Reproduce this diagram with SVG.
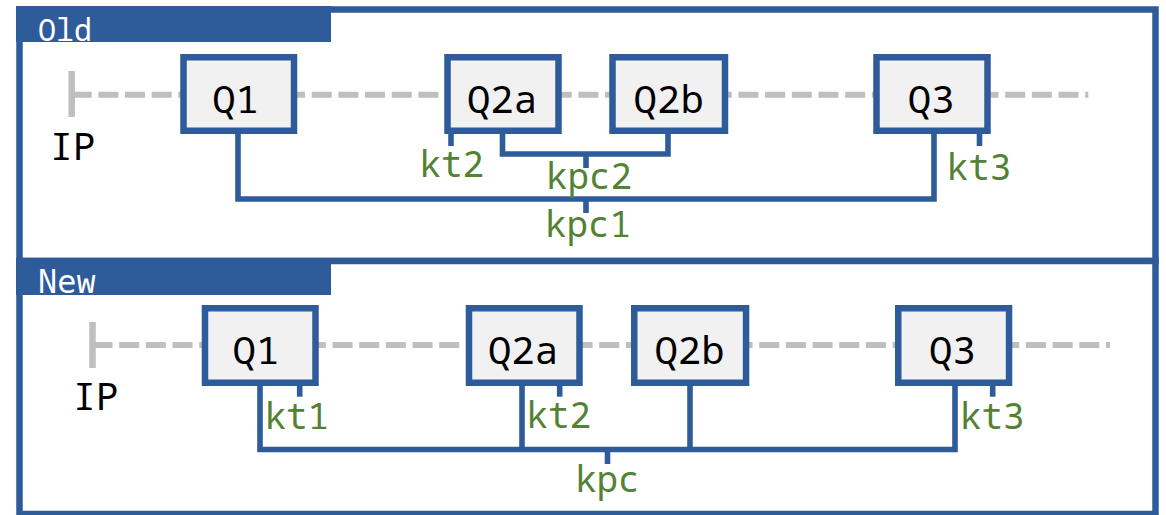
<svg xmlns="http://www.w3.org/2000/svg" width="1166" height="515" viewBox="0 0 1166 515">
  <defs>
    <style>
      .frame { fill: #ffffff; stroke: #2e5b99; stroke-width: 6.5; }
      .tab { fill: #2e5b99; }
      .tabtxt { fill: #ffffff; font-family: "Noto Sans Mono", "DejaVu Sans Mono", "Liberation Mono", monospace; }
      .axis { fill: none; stroke: #bfbfbf; stroke-width: 6; stroke-dasharray: 20 6.67; }
      .tick { fill: none; stroke: #bfbfbf; stroke-width: 6.5; }
      .box { fill: #f1f1f1; stroke: #2e5b99; stroke-width: 6.5; }
      .qtxt { fill: #000000; font-family: "Noto Sans Mono", "DejaVu Sans Mono", "Liberation Mono", monospace; font-size: 39px; text-anchor: middle; }
      .iptxt { fill: #000000; font-family: "Noto Sans Mono", "DejaVu Sans Mono", "Liberation Mono", monospace; font-size: 38px; }
      .wire { fill: none; stroke: #2e5b99; stroke-width: 5.6; stroke-linejoin: miter; }
      .lbl { fill: #548235; font-family: "Noto Sans Mono", "DejaVu Sans Mono", "Liberation Mono", monospace; font-size: 36px; text-anchor: middle; }
    </style>
  </defs>

  <!-- panel frames -->
  <g id="panel-old">
    <rect class="frame" x="19.5" y="9.5" width="1136" height="251.5"/>
    <rect class="tab" x="16" y="6" width="315" height="36"/>
    <text class="tabtxt" x="38" y="40.5" font-size="30">Old</text>
  </g>
  <g id="panel-new">
    <rect class="frame" x="19.5" y="261" width="1136" height="253"/>
    <rect class="tab" x="16" y="258" width="315" height="37"/>
    <text class="tabtxt" x="38" y="293" font-size="32">New</text>
  </g>

  <!-- dashed time axes -->
  <g id="axis-old">
    <line class="tick" x1="71.7" y1="71" x2="71.7" y2="117"/>
    <line class="axis" x1="71.7" y1="94.7" x2="1088.3" y2="94.7"/>
    <text class="iptxt" x="50" y="160">IP</text>
  </g>
  <g id="axis-new">
    <line class="tick" x1="92.5" y1="322" x2="92.5" y2="368"/>
    <line class="axis" x1="92.5" y1="345" x2="1110" y2="345"/>
    <text class="iptxt" x="73" y="410">IP</text>
  </g>

  <!-- connectors -->
  <g id="connectors">
    <!-- old -->
    <path class="wire" d="M238,131 V199 H934 V131"/>
    <path class="wire" d="M586,199 V213"/>
    <path class="wire" d="M502.5,131 V154 H668 V131"/>
    <path class="wire" d="M586,154 V168"/>
    <path class="wire" d="M451,131 V146"/>
    <path class="wire" d="M979.5,131 V146"/>
    <!-- new -->
    <path class="wire" d="M260,383 V449.5 H955 V383"/>
    <path class="wire" d="M522,383 V449.5"/>
    <path class="wire" d="M690,383 V449.5"/>
    <path class="wire" d="M607.5,449.5 V464"/>
    <path class="wire" d="M299.7,383 V396.7"/>
    <path class="wire" d="M559.7,383 V396.7"/>
    <path class="wire" d="M992.7,383 V396.7"/>
  </g>

  <!-- connector labels -->
  <g id="labels">
    <text class="lbl" x="451.7" y="177">kt2</text>
    <text class="lbl" x="589" y="189">kpc2</text>
    <text class="lbl" x="588" y="236.5">kpc1</text>
    <text class="lbl" x="979" y="180">kt3</text>
    <text class="lbl" x="296.8" y="429">kt1</text>
    <text class="lbl" x="558.7" y="428">kt2</text>
    <text class="lbl" x="607.3" y="491.5">kpc</text>
    <text class="lbl" x="992.2" y="429">kt3</text>
  </g>

  <!-- old layout nodes -->
  <g id="old-q1">
    <rect class="box" x="183.5" y="57.25" width="110.5" height="73.5"/>
    <text class="qtxt" x="235.6" y="112.5">Q1</text>
  </g>
  <g id="old-q2a">
    <rect class="box" x="447.5" y="57.25" width="111" height="73.5"/>
    <text class="qtxt" x="502" y="112.5">Q2a</text>
  </g>
  <g id="old-q2b">
    <rect class="box" x="612.5" y="57.25" width="112.5" height="73.5"/>
    <text class="qtxt" x="668.7" y="112.5">Q2b</text>
  </g>
  <g id="old-q3">
    <rect class="box" x="876.5" y="57.25" width="111" height="73.5"/>
    <text class="qtxt" x="931.2" y="112.5">Q3</text>
  </g>

  <!-- new layout nodes -->
  <g id="new-q1">
    <rect class="box" x="205" y="308.25" width="110.5" height="74.5"/>
    <text class="qtxt" x="256" y="363.5">Q1</text>
  </g>
  <g id="new-q2a">
    <rect class="box" x="469" y="308.25" width="110.5" height="74.5"/>
    <text class="qtxt" x="523" y="363.5">Q2a</text>
  </g>
  <g id="new-q2b">
    <rect class="box" x="634.25" y="308.25" width="111.8" height="74.5"/>
    <text class="qtxt" x="689.5" y="363.5">Q2b</text>
  </g>
  <g id="new-q3">
    <rect class="box" x="898.25" y="308.25" width="110.8" height="74.5"/>
    <text class="qtxt" x="952.5" y="363.5">Q3</text>
  </g>
</svg>
